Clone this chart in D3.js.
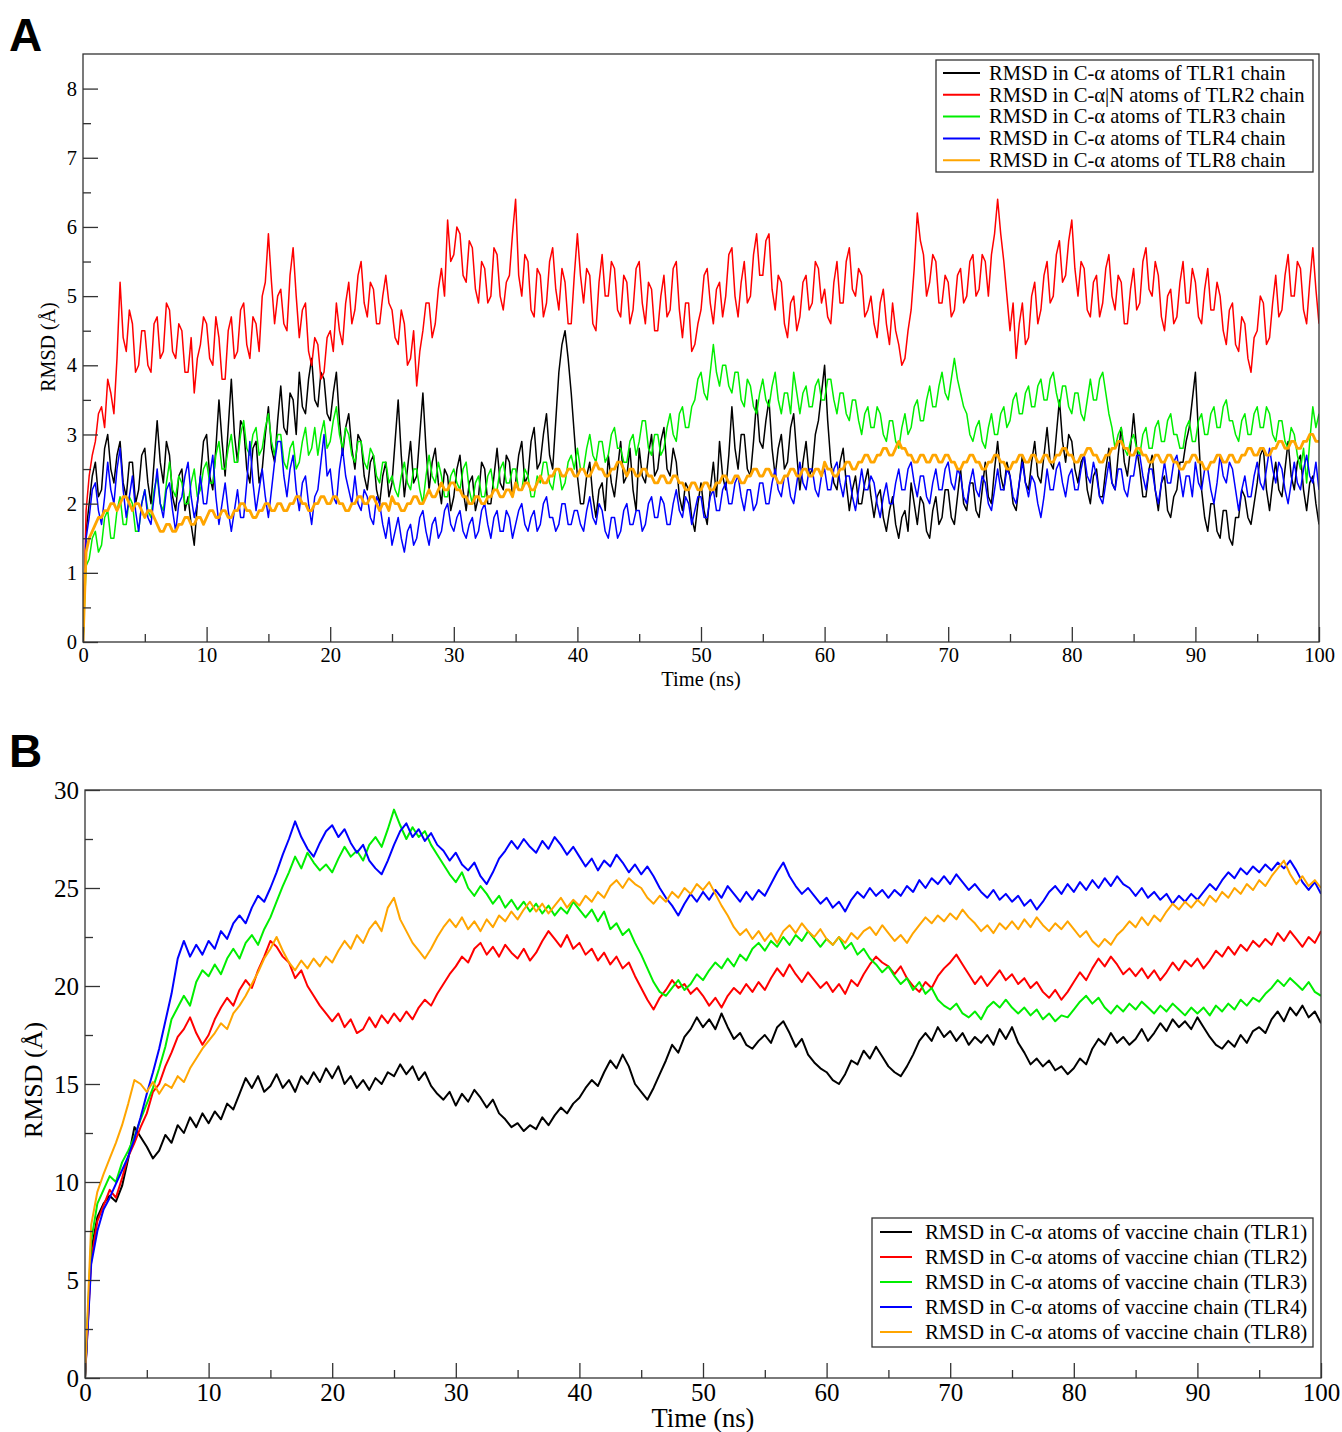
<!DOCTYPE html>
<html><head><meta charset="utf-8">
<script src="https://cdn.jsdelivr.net/npm/d3@7/dist/d3.min.js"></script>
<style>body{margin:0;background:#fff}svg{display:block}</style>
</head><body>
<svg id="chart" width="1342" height="1432"></svg>
<script>
// ---------- DATA ----------
const timeStepA = 0.25; // ns between samples, panel A
const timeStepB = 0.5;  // ns between samples, panel B
const xTickLabels = [0,10,20,30,40,50,60,70,80,90,100];
const xMinorTicks = [5,15,25,35,45,55,65,75,85,95];
const yTickLabelsA = [0,1,2,3,4,5,6,7,8];
const yMinorTicksA = [0.5,1.5,2.5,3.5,4.5,5.5,6.5,7.5];
const yTickLabelsB = [0,5,10,15,20,25,30];
const yMinorTicksB = [2.5,7.5,12.5,17.5,22.5,27.5];

const legendA = ["RMSD in C-\u03b1 atoms of TLR1 chain","RMSD in C-\u03b1|N atoms of TLR2 chain","RMSD in C-\u03b1 atoms of TLR3 chain","RMSD in C-\u03b1 atoms of TLR4 chain","RMSD in C-\u03b1 atoms of TLR8 chain"];
const legendB = ["RMSD in C-\u03b1 atoms of vaccine chain (TLR1)","RMSD in C-\u03b1 atoms of vaccine chian (TLR2)","RMSD in C-\u03b1 atoms of vaccine chain (TLR3)","RMSD in C-\u03b1 atoms of vaccine chain (TLR4)","RMSD in C-\u03b1 atoms of vaccine chain (TLR8)"];
const seriesColors = ["#000000","#ff0000","#00ee00","#0000ff","#ffa500"];

// Panel A (RMSD, Å), one value every 0.25 ns from 0 to 100 ns (20 values per 5 ns row)
const tlr1A = [
0,1.6,2.0,2.4,2.6,2.1,2.2,2.8,3.0,2.5,2.3,2.7,2.9,2.3,2.1,2.6,2.6,2.0,2.2,2.7,
2.8,2.3,2.0,2.6,3.2,2.6,2.3,2.9,2.7,2.1,1.9,2.4,2.5,1.9,2.1,1.7,1.4,2.0,2.4,2.9,
3.0,2.4,2.2,2.8,3.5,2.9,2.4,3.1,3.8,3.0,2.6,3.2,3.1,2.5,2.3,2.8,2.9,2.3,2.5,3.0,
3.4,2.8,2.6,3.2,3.7,3.1,3.0,3.6,3.5,3.0,3.9,3.4,3.3,3.8,4.1,3.5,3.4,3.9,3.8,3.3,
3.2,3.6,3.9,3.2,2.7,3.1,3.3,2.8,2.5,3.0,2.9,2.4,2.2,2.6,2.7,2.2,2.0,2.4,2.6,2.1,
2.3,2.9,3.5,2.7,2.1,2.5,2.9,2.3,2.4,3.0,3.6,2.8,2.2,2.6,2.8,2.3,2.0,2.5,2.4,1.9,
2.1,2.5,2.7,2.2,1.9,2.3,2.4,1.9,2.1,2.6,2.5,2.0,2.0,2.4,2.8,2.3,2.2,2.7,2.6,2.1,
2.3,2.7,2.9,2.3,2.4,2.9,3.1,2.5,2.6,3.0,3.3,2.7,2.5,3.2,3.9,4.3,4.5,4.1,3.6,3.0,
2.4,2.0,2.0,2.4,2.6,2.1,1.8,2.2,2.3,1.9,2.7,2.3,2.1,2.5,2.9,2.3,2.4,2.8,2.2,1.9,
2.8,2.4,2.3,2.7,3.0,2.4,2.5,2.9,3.1,2.5,2.4,2.8,2.6,2.1,1.9,2.3,2.2,1.8,1.6,2.0,
2.3,1.9,1.7,2.2,2.6,2.1,2.9,2.4,2.2,2.7,3.4,2.8,2.5,3.0,3.0,2.5,2.4,2.9,3.5,2.9,
2.8,3.2,3.5,2.8,2.4,2.8,3.0,2.5,2.6,3.1,3.3,2.7,2.2,2.6,2.9,2.4,2.5,3.0,3.2,3.6,
4.0,3.2,2.6,2.3,2.2,2.6,2.8,2.3,1.9,2.2,2.4,2.0,2.0,2.3,2.5,2.1,1.8,2.1,2.2,1.8,
1.6,1.9,2.1,1.7,1.5,1.8,1.9,1.6,2.3,2.0,1.7,2.1,2.0,1.6,1.5,1.9,2.1,1.7,1.8,2.2,
2.2,1.8,1.7,2.1,2.5,2.0,1.9,2.3,2.3,1.9,1.8,2.2,2.6,2.1,2.0,2.5,2.9,2.4,2.2,2.6,
2.4,2.0,1.9,2.3,2.7,2.3,2.2,2.6,2.9,2.4,2.3,2.7,3.1,2.6,2.5,3.0,3.5,2.9,2.6,3.0,
2.9,2.5,2.3,2.6,2.7,2.2,2.0,2.4,2.5,2.1,2.1,2.5,2.8,2.3,2.2,2.7,3.1,2.6,2.4,2.8,
3.3,2.8,2.5,2.1,2.1,2.5,2.7,2.2,1.9,2.3,2.4,1.9,1.8,2.1,2.2,2.6,2.6,2.9,3.1,3.5,
3.9,3.0,2.2,1.8,1.6,2.0,2.0,1.6,1.5,1.9,1.9,1.5,1.4,1.8,1.8,2.2,2.1,1.8,1.7,2.0,
2.3,2.7,2.8,2.2,1.9,2.3,2.6,2.2,2.1,2.5,2.9,2.4,2.2,2.6,2.7,2.2,1.9,2.3,2.4,2.0,
1.7];
const tlr2A = [
0,1.9,2.4,2.7,2.9,3.3,3.4,3.1,3.8,3.6,3.3,4.1,5.2,4.4,4.2,4.8,4.6,3.9,4.0,4.5,
4.5,4.0,3.9,4.6,4.7,4.1,4.2,4.9,4.8,4.2,4.1,4.6,4.5,3.9,3.9,4.4,3.6,4.1,4.3,4.7,
4.6,4.1,4.0,4.7,4.4,3.8,3.8,4.5,4.7,4.1,4.2,4.8,4.9,4.3,4.1,4.7,4.6,4.2,5.0,5.2,
5.9,5.2,4.6,5.0,5.1,4.6,4.5,5.3,5.7,5.0,4.4,4.8,4.9,4.2,4.0,4.4,4.3,3.8,3.9,4.4,
4.5,4.2,4.9,4.5,4.3,4.9,5.2,4.6,4.8,5.3,5.5,4.9,4.7,5.2,5.1,4.6,4.6,5.0,5.3,4.9,
4.8,4.4,4.3,4.8,4.6,4.0,4.1,4.5,3.7,4.2,4.5,4.9,4.9,4.4,4.6,5.1,5.4,5.0,6.1,5.5,
5.6,6.0,5.9,5.3,5.2,5.8,5.7,5.1,4.9,5.5,5.4,4.9,5.0,5.7,5.6,5.0,4.8,5.2,5.3,5.9,
6.4,5.3,5.0,5.6,5.5,4.8,4.7,5.4,5.3,4.7,4.9,5.5,5.7,5.1,4.8,5.4,5.2,4.6,4.6,5.3,
5.9,5.3,4.9,5.4,5.3,4.6,4.5,5.2,5.6,5.0,5.0,5.5,5.4,4.8,4.7,5.3,5.2,4.6,4.8,5.4,
5.5,4.9,4.6,5.2,5.1,4.5,4.5,5.0,5.3,4.7,4.8,5.4,5.5,4.8,4.4,4.9,4.9,4.2,4.3,4.6,
4.8,5.3,5.4,4.9,4.6,5.1,5.2,4.7,5.0,5.6,5.7,5.0,4.7,5.2,5.5,4.9,5.0,5.6,5.9,5.3,
5.3,5.8,5.9,5.1,4.8,5.3,5.2,4.6,4.4,4.9,5.0,4.5,4.7,5.2,5.3,4.8,4.9,5.5,5.4,4.9,
5.1,4.7,4.6,5.2,5.5,4.9,4.9,5.5,5.7,5.1,5.0,5.4,5.3,4.7,4.8,5.0,4.6,4.4,4.9,5.1,
4.6,4.3,4.9,4.5,4.3,4.0,4.1,4.5,4.8,5.4,6.2,5.8,5.6,5.0,5.2,5.6,5.5,4.9,4.9,5.3,
5.2,4.7,4.8,5.3,5.4,4.9,5.0,5.5,5.6,5.0,5.1,5.6,5.5,5.0,5.6,5.9,6.4,5.9,5.5,5.0,
4.5,4.9,4.1,4.6,4.9,4.3,4.4,5.0,5.2,4.6,4.8,5.3,5.5,4.9,5.0,5.6,5.8,5.2,5.3,5.8,
6.1,5.4,5.0,5.5,5.4,4.8,4.7,5.2,5.3,4.7,4.9,5.4,5.6,5.0,4.8,5.3,5.2,4.6,4.6,5.1,
5.4,4.8,4.9,5.5,5.7,5.1,5.0,5.5,5.3,4.7,4.5,5.0,5.1,4.6,4.7,5.2,5.5,4.9,4.9,5.4,
5.2,4.7,4.6,5.1,5.4,4.8,4.8,5.2,5.0,4.5,4.3,4.8,4.9,4.3,4.2,4.7,4.6,4.1,3.9,4.4,
4.5,5.0,4.9,4.3,4.4,4.9,5.3,4.7,4.8,5.3,5.6,5.0,5.0,5.5,5.4,4.8,4.6,5.2,5.7,5.1,
4.6];
const tlr3A = [
0,1.1,1.2,1.5,1.6,1.3,1.4,1.8,1.9,1.5,1.5,1.9,2.1,1.7,1.7,2.1,2.0,1.6,1.6,2.0,
2.2,1.9,1.8,2.2,2.4,2.0,1.9,2.3,2.6,2.2,2.1,2.4,2.3,2.0,2.0,2.3,2.5,2.1,2.2,2.5,
2.6,2.3,2.3,2.7,2.9,2.5,2.5,2.8,3.0,2.6,2.6,3.0,3.2,2.8,2.7,3.0,3.1,2.7,2.8,3.1,
3.3,2.9,2.7,3.0,3.0,2.6,2.5,2.8,2.9,2.5,2.6,2.9,3.1,2.7,2.8,3.1,2.7,3.0,3.2,2.8,
2.9,3.2,3.4,3.0,2.8,3.1,3.0,2.7,2.6,2.9,2.9,2.6,2.5,2.8,2.7,2.4,2.3,2.6,2.6,2.3,
2.4,2.2,2.1,2.4,2.6,2.3,2.2,2.5,2.5,2.2,2.0,2.4,2.7,2.4,2.3,2.6,2.4,2.1,2.1,2.4,
2.5,2.3,2.2,2.5,2.6,2.2,2.0,2.3,2.4,2.1,2.1,2.4,2.5,2.2,2.2,2.5,2.6,2.3,2.3,2.5,
2.5,2.2,2.2,2.5,2.4,2.1,2.1,2.4,2.3,2.6,2.6,2.3,2.2,2.5,2.5,2.2,2.3,2.6,2.7,2.5,
2.8,2.5,2.5,2.8,3.0,2.7,2.6,2.9,2.9,2.6,2.7,3.0,3.1,2.8,2.8,2.6,2.6,2.9,3.0,2.7,
2.9,3.2,3.2,2.8,2.7,3.0,3.0,2.7,2.8,3.1,3.3,3.0,2.9,3.3,3.4,3.1,3.1,3.4,3.5,3.8,
3.9,3.6,3.5,3.9,4.3,3.9,3.7,4.0,4.0,3.7,3.6,3.9,3.9,3.5,3.4,3.8,3.7,3.4,3.3,3.6,
3.8,3.5,3.4,3.7,3.9,3.5,3.3,3.6,3.6,3.3,3.9,3.6,3.3,3.6,3.7,3.4,3.4,3.7,3.8,3.5,
3.5,3.8,3.8,3.5,3.3,3.6,3.6,3.3,3.2,3.5,3.5,3.2,3.0,3.3,3.4,3.1,3.1,3.4,3.3,3.0,
2.9,3.2,3.2,2.9,2.8,3.1,3.3,3.0,3.1,3.4,3.5,3.2,3.2,3.5,3.7,3.4,3.4,3.7,3.9,3.6,
3.5,3.8,4.1,3.8,3.6,3.4,3.3,3.0,2.9,3.1,3.2,2.9,2.8,3.1,3.3,3.0,3.0,3.3,3.4,3.1,
3.2,3.5,3.6,3.3,3.3,3.6,3.7,3.4,3.4,3.7,3.8,3.5,3.5,3.8,3.9,3.6,3.4,3.7,3.7,3.4,
3.3,3.6,3.6,3.3,3.2,3.5,3.8,3.5,3.5,3.8,3.9,3.6,3.3,3.1,2.8,3.0,3.1,2.8,2.7,2.9,
3.0,2.8,2.7,3.0,3.1,2.8,2.8,3.1,3.2,2.9,2.9,3.2,3.3,3.0,3.0,2.8,2.8,3.1,3.2,2.9,
2.9,3.2,3.3,3.0,3.0,3.3,3.4,3.1,3.1,3.4,3.5,3.2,3.2,3.0,2.9,3.2,3.3,3.0,3.0,3.3,
3.4,3.1,3.1,3.4,3.3,3.0,2.9,3.2,3.2,2.9,2.8,3.1,3.0,2.7,2.5,2.8,2.3,2.9,3.4,3.1,
3.3];
const tlr4A = [
0,1.5,1.8,2.2,2.3,1.9,1.7,2.1,2.6,2.2,2.0,2.5,2.8,2.2,1.8,2.1,2.4,1.9,1.6,2.0,
2.2,1.8,1.7,2.1,2.5,2.0,1.8,2.2,2.3,1.9,1.6,2.0,2.1,2.4,2.6,2.1,1.8,2.0,2.4,2.0,
2.0,2.4,2.7,2.1,1.7,2.0,2.3,1.9,1.6,1.9,2.2,1.8,1.8,2.3,2.9,2.3,1.9,2.2,2.5,2.1,
1.8,2.2,2.6,2.9,2.9,2.4,2.1,2.5,2.7,2.2,1.9,2.3,2.4,2.0,1.7,2.1,2.2,2.6,3.0,2.4,
2.5,2.1,2.0,2.5,2.8,2.4,2.2,2.0,2.4,2.0,1.9,2.2,2.1,1.8,1.7,2.1,2.0,1.7,1.5,1.8,
1.4,1.6,1.8,1.5,1.3,1.6,1.7,1.4,1.5,1.8,1.9,1.6,1.4,1.7,1.8,1.5,1.6,1.9,2.0,1.7,
1.6,1.8,1.9,1.6,1.5,1.7,1.8,1.5,1.6,1.9,2.0,1.7,1.5,1.8,1.9,1.6,1.6,1.9,1.8,1.5,
1.7,1.9,2.0,1.7,1.6,1.8,1.9,1.6,1.7,2.0,2.1,1.8,1.8,1.6,1.7,2.0,2.0,1.7,1.7,1.9,
1.9,1.7,1.6,1.9,2.1,1.8,1.7,2.0,1.9,1.6,1.5,1.8,1.8,1.5,1.6,1.9,2.0,1.7,1.7,1.9,
1.9,1.6,1.7,2.0,2.1,1.8,1.8,2.1,2.0,1.7,1.7,2.0,2.2,1.9,1.8,2.1,2.0,1.7,1.9,2.1,
2.1,1.8,1.8,2.1,2.2,1.9,1.9,2.2,2.3,2.0,2.0,2.3,2.4,2.1,1.9,2.2,2.2,1.9,2.0,2.3,
2.3,2.0,2.0,2.3,2.5,2.2,2.1,2.4,2.4,2.1,2.0,2.3,2.6,2.3,2.2,2.5,2.5,2.2,2.1,2.4,
2.5,2.2,2.2,2.5,2.6,2.3,2.1,2.4,2.4,2.1,1.9,2.2,2.5,2.2,2.2,2.4,2.3,2.0,1.8,2.1,
2.3,2.0,2.0,2.3,2.5,2.2,2.2,2.5,2.6,2.3,2.1,2.4,2.4,2.1,2.0,2.3,2.5,2.2,2.2,2.5,
2.6,2.3,2.2,2.5,2.4,2.1,2.0,2.3,2.5,2.2,2.1,2.4,2.3,2.0,1.9,2.2,2.5,2.2,2.2,2.5,
2.4,2.1,2.0,2.3,2.6,2.3,2.1,2.4,2.3,2.0,1.8,2.1,2.5,2.2,2.2,2.5,2.6,2.3,2.1,2.4,
2.5,2.2,2.2,2.5,2.7,2.4,2.3,2.6,2.4,2.1,2.0,2.3,2.6,2.3,2.2,2.5,2.5,2.2,2.1,2.4,
2.4,2.7,2.7,2.4,2.2,2.5,2.5,2.2,2.0,2.3,2.6,2.3,2.3,2.6,2.7,2.4,2.1,2.4,2.4,2.1,
2.6,2.3,2.2,2.5,2.5,2.2,2.0,2.3,2.7,2.4,2.3,2.6,2.5,2.2,1.9,2.2,2.4,2.1,2.1,2.4,
2.6,2.3,2.2,2.5,2.8,2.5,2.3,2.6,2.5,2.2,2.0,2.3,2.6,2.3,2.2,2.5,2.7,2.4,2.3,2.6,
2.2];
const tlr8A = [
0,1.3,1.5,1.6,1.7,1.8,1.8,1.9,1.9,2.0,2.0,1.9,2.0,2.1,2.1,2.0,1.9,2.0,2.0,1.9,
1.8,1.9,1.9,1.8,1.7,1.6,1.6,1.7,1.7,1.6,1.6,1.7,1.7,1.8,1.8,1.7,1.7,1.8,1.8,1.7,
1.8,1.9,1.9,1.8,1.8,1.9,1.9,1.8,1.8,1.9,1.9,2.0,2.0,1.9,1.9,1.8,1.8,1.9,1.9,2.0,
2.0,1.9,1.9,2.0,2.0,1.9,1.9,2.0,2.0,2.1,2.1,2.0,2.0,1.9,1.9,2.0,2.0,2.1,2.1,2.0,
2.0,2.1,2.1,2.0,2.0,1.9,1.9,2.0,2.0,2.1,2.1,2.0,2.0,2.1,2.1,2.0,1.9,2.0,2.0,1.9,
2.1,2.0,2.0,1.9,1.9,2.0,2.0,2.1,2.1,2.0,2.0,2.1,2.2,2.1,2.1,2.2,2.3,2.2,2.2,2.3,
2.3,2.2,2.2,2.1,2.1,2.0,2.0,2.1,2.1,2.0,2.0,2.1,2.1,2.2,2.2,2.1,2.1,2.2,2.2,2.1,
2.3,2.2,2.2,2.3,2.3,2.2,2.2,2.3,2.4,2.3,2.3,2.4,2.4,2.5,2.5,2.4,2.4,2.5,2.5,2.4,
2.4,2.5,2.5,2.4,2.4,2.5,2.6,2.5,2.5,2.4,2.4,2.5,2.5,2.6,2.6,2.5,2.4,2.5,2.5,2.4,
2.4,2.5,2.5,2.4,2.4,2.3,2.3,2.4,2.4,2.3,2.3,2.4,2.4,2.3,2.3,2.2,2.2,2.3,2.3,2.2,
2.2,2.3,2.3,2.2,2.2,2.3,2.3,2.4,2.4,2.3,2.3,2.4,2.4,2.3,2.3,2.4,2.4,2.5,2.5,2.4,
2.4,2.5,2.5,2.4,2.4,2.3,2.3,2.4,2.4,2.5,2.5,2.4,2.4,2.5,2.5,2.4,2.4,2.5,2.5,2.4,
2.6,2.5,2.5,2.4,2.4,2.5,2.5,2.6,2.6,2.5,2.5,2.6,2.6,2.7,2.7,2.6,2.6,2.7,2.7,2.8,
2.8,2.7,2.7,2.8,2.9,2.8,2.8,2.7,2.7,2.6,2.6,2.7,2.7,2.6,2.6,2.7,2.7,2.6,2.6,2.7,
2.7,2.6,2.6,2.5,2.5,2.6,2.6,2.7,2.7,2.6,2.6,2.5,2.5,2.6,2.6,2.7,2.7,2.6,2.6,2.5,
2.5,2.6,2.6,2.7,2.7,2.6,2.6,2.7,2.7,2.6,2.6,2.7,2.7,2.6,2.6,2.7,2.7,2.8,2.8,2.7,
2.7,2.6,2.6,2.7,2.7,2.8,2.8,2.7,2.7,2.6,2.6,2.7,2.7,2.8,2.8,2.9,2.9,2.8,2.8,2.7,
2.7,2.8,2.8,2.7,2.7,2.6,2.6,2.7,2.7,2.6,2.6,2.7,2.7,2.6,2.6,2.5,2.5,2.6,2.6,2.7,
2.7,2.6,2.6,2.5,2.5,2.6,2.6,2.7,2.7,2.6,2.6,2.7,2.7,2.6,2.6,2.7,2.7,2.8,2.8,2.7,
2.7,2.8,2.8,2.7,2.7,2.8,2.8,2.9,2.9,2.8,2.8,2.9,2.9,2.8,2.8,2.9,2.9,3.0,3.0,2.9,
2.9];

// Panel B (RMSD, Å), one value every 0.5 ns from 0 to 100 ns
const tlr1B = [0,6.5,8.2,8.9,9.3,9.0,9.8,11.2,12.8,12.3,
11.8,11.2,11.6,12.4,12.0,12.9,12.5,13.3,12.8,13.5,
13.0,13.6,13.2,14.0,13.7,14.5,15.3,14.8,15.4,14.6,
14.9,15.5,14.8,15.2,14.6,15.4,15.0,15.6,15.1,15.8,
15.3,15.9,15.0,15.4,14.8,15.2,14.7,15.3,15.0,15.6,
15.4,16.0,15.5,15.9,15.2,15.6,14.9,14.5,14.2,14.6,
13.9,14.5,14.1,14.7,14.3,13.8,14.2,13.5,13.2,12.8,
13.0,12.6,12.9,12.7,13.3,12.9,13.4,13.8,13.5,14.0,
14.3,14.8,15.2,14.9,15.6,16.2,15.8,16.5,15.9,15.0,
14.6,14.2,14.8,15.5,16.2,17.0,16.6,17.4,17.8,18.4,
17.9,18.3,17.8,18.6,17.9,17.3,17.6,17.0,16.8,17.2,
17.5,17.1,17.9,18.2,17.6,16.9,17.3,16.5,16.1,15.8,
15.6,15.2,15.0,15.5,16.2,16.0,16.7,16.3,16.9,16.4,
15.9,15.6,15.4,15.9,16.5,17.2,17.6,17.2,17.9,17.4,
17.7,17.2,17.6,17.0,17.4,17.1,17.5,17.0,17.8,17.3,
17.9,17.1,16.6,16.0,16.3,15.9,16.2,15.7,15.9,15.5,
15.8,16.3,16.0,16.8,17.3,17.0,17.6,17.1,17.4,17.0,
17.3,17.8,17.2,17.6,18.1,17.7,18.3,17.9,18.2,17.8,
18.4,17.9,17.4,17.0,16.8,17.2,16.9,17.5,17.1,17.7,
17.9,17.6,18.3,18.7,18.2,18.9,18.5,19.0,18.4,18.7,
18.1];
const tlr2B = [0,6.0,8.0,8.8,9.6,9.2,10.2,11.3,12.0,12.8,
13.5,14.6,15.0,15.9,16.6,17.4,17.8,18.4,17.6,17.0,
17.5,18.3,18.9,19.4,19.0,19.8,20.3,19.9,20.8,21.5,
22.3,22.0,21.5,21.2,20.4,20.8,20.0,19.5,19.0,18.6,
18.2,18.6,17.9,18.3,17.6,17.8,18.4,17.9,18.5,18.1,
18.6,18.2,18.7,18.3,18.9,19.3,19.0,19.6,20.1,20.6,
21.0,21.5,21.2,21.9,22.2,21.6,22.0,21.5,22.1,21.7,
21.4,21.9,21.3,21.7,22.3,22.8,22.4,22.0,22.6,21.9,
22.2,21.6,21.9,21.3,21.7,21.1,21.5,20.9,21.2,20.5,
19.9,19.3,18.8,19.4,19.8,20.3,19.9,20.1,19.6,19.9,
19.5,19.0,19.4,18.9,19.5,19.9,19.6,20.1,19.7,20.2,
19.8,20.4,20.9,20.5,21.1,20.6,20.2,20.7,20.3,19.9,
20.2,19.7,20.1,19.6,20.3,20.0,20.6,21.1,21.5,21.2,
21.0,20.6,21.0,20.4,20.0,19.7,20.2,19.9,20.5,20.9,
21.2,21.6,21.1,20.6,20.1,20.5,20.0,20.4,20.8,20.3,
20.6,20.1,20.4,19.9,20.2,19.7,19.4,19.8,19.3,19.7,
20.2,20.7,20.3,20.9,21.4,21.0,21.5,21.1,20.6,20.9,
20.5,20.9,20.4,20.8,20.3,20.7,21.2,20.8,21.3,21.0,
21.4,20.9,21.3,21.8,21.5,22.0,21.6,22.1,21.8,22.3,
22.0,22.4,22.1,22.7,22.3,22.8,22.4,22.0,22.5,22.2,
22.8];
const tlr3B = [0,7.0,8.9,9.6,10.3,10.0,11.0,11.6,12.3,13.2,
14.0,14.8,15.8,16.9,18.3,18.9,19.5,19.0,20.2,20.8,
20.5,21.1,20.6,21.4,21.9,21.4,22.2,22.6,22.1,22.9,
23.5,24.3,25.1,25.8,26.6,26.0,26.8,26.3,25.9,26.2,
25.8,26.5,27.1,26.6,26.9,26.4,27.2,27.6,27.1,28.0,
29.0,28.2,27.5,28.1,27.6,27.9,27.2,26.7,26.2,25.7,
25.3,25.8,25.0,24.6,25.1,24.7,24.2,24.6,24.0,24.4,
23.9,24.3,23.8,24.2,23.7,24.1,23.6,24.0,23.7,24.3,
23.9,23.5,23.9,23.3,23.8,22.9,23.2,22.6,22.9,22.2,
21.6,20.9,20.2,19.7,19.5,19.9,20.3,19.8,20.1,20.6,
20.3,20.8,21.2,20.9,21.4,21.0,21.6,21.3,21.9,22.2,
21.8,22.3,22.0,22.5,22.1,22.6,22.3,22.8,22.4,22.0,
22.4,22.1,22.5,21.9,22.2,21.6,21.9,21.4,21.1,20.7,
21.0,20.5,20.1,20.4,19.8,20.2,19.6,19.9,19.3,19.0,
18.8,19.1,18.6,18.4,18.7,18.3,18.9,19.2,18.9,19.3,
18.9,18.6,18.9,18.5,18.8,18.3,18.6,18.2,18.5,18.4,
18.8,19.2,19.5,19.1,19.4,18.9,18.6,19.0,18.7,19.1,
18.8,19.2,18.9,18.6,19.0,18.7,19.1,18.8,18.5,18.9,
18.6,18.9,18.5,19.0,18.7,19.1,18.8,19.3,19.0,19.4,
19.2,19.6,19.9,20.3,20.0,20.4,20.1,19.8,20.2,19.7,
19.5];
const tlr4B = [0,5.8,7.5,8.6,9.2,9.9,10.6,11.3,12.2,13.3,
14.5,15.6,16.8,18.2,19.6,21.4,22.3,21.5,22.1,21.6,
22.3,21.9,22.8,22.4,23.2,23.6,23.2,24.0,24.6,24.3,
25.0,25.8,26.7,27.5,28.4,27.6,27.0,26.6,27.3,27.9,
28.2,27.6,28.0,27.3,26.8,27.2,26.4,26.0,25.7,26.4,
27.2,27.9,28.3,27.6,28.0,27.4,27.8,27.2,26.9,26.4,
26.8,26.2,25.9,26.3,25.6,25.2,25.8,26.5,26.9,27.4,
27.0,27.5,27.1,26.8,27.4,27.0,27.6,27.2,26.7,27.1,
26.6,26.1,26.5,25.9,26.4,26.1,26.7,26.3,25.8,26.2,
25.7,26.1,25.6,25.0,24.5,24.1,23.6,24.2,24.7,24.3,
24.8,24.4,24.9,24.5,25.1,24.7,24.3,24.8,24.4,24.9,
24.6,25.2,25.8,26.3,25.6,25.1,24.7,25.0,24.6,24.2,
24.5,24.0,24.3,23.8,24.4,24.8,24.5,25.0,24.6,24.9,
24.5,24.9,24.6,25.1,24.8,25.4,25.0,25.5,25.2,25.6,
25.2,25.7,25.3,24.9,25.2,24.8,24.5,24.9,24.4,24.7,
24.3,24.6,24.1,24.4,23.9,24.3,24.8,25.1,24.7,25.2,
24.8,25.3,24.9,25.4,25.0,25.5,25.1,25.6,25.2,25.0,
24.6,25.0,24.5,24.8,24.4,24.7,24.2,24.6,24.3,24.7,
24.4,24.8,25.2,24.9,25.4,25.8,25.5,26.0,25.7,26.1,
25.8,26.2,25.9,26.3,26.0,26.4,25.9,25.3,24.9,25.3,
24.7];
const tlr8B = [0,7.8,9.5,10.4,11.2,12.0,12.9,14.0,15.2,15.0,
14.6,15.1,14.5,15.0,14.8,15.4,15.1,15.8,16.3,16.8,
17.2,17.6,18.1,17.8,18.6,19.0,19.5,20.1,20.7,21.4,
21.9,22.5,21.8,21.2,20.8,21.3,20.9,21.4,21.0,21.5,
21.2,21.8,22.3,21.9,22.6,22.2,22.9,23.3,22.8,24.0,
24.5,23.4,22.8,22.2,21.8,21.4,21.9,22.5,23.0,23.4,
23.0,23.5,22.9,23.3,22.8,23.4,23.0,23.6,23.3,23.8,
23.4,23.9,24.3,23.8,24.2,23.7,24.1,24.5,24.0,24.4,
24.1,24.6,24.3,24.8,24.5,25.1,25.4,25.0,25.5,25.2,
25.0,24.5,24.2,24.6,24.3,24.8,24.5,25.0,24.7,25.2,
24.9,25.3,24.7,24.1,23.6,23.0,22.6,22.9,22.4,22.8,
22.3,22.7,22.2,22.8,23.1,22.7,23.2,22.8,22.5,22.9,
22.4,22.1,22.5,22.2,22.7,22.4,22.8,23.0,22.6,23.1,
22.7,22.3,22.6,22.2,22.7,23.1,23.5,23.2,23.6,23.3,
23.7,23.4,23.9,23.5,23.2,22.8,23.1,22.7,23.2,22.9,
23.3,22.9,23.4,23.0,23.5,23.1,22.8,23.2,22.9,23.3,
22.9,22.5,22.8,22.3,22.0,22.4,22.1,22.6,22.9,23.3,
23.0,23.5,23.1,23.6,23.3,23.8,24.2,23.9,24.3,24.0,
24.4,24.1,24.6,24.3,24.8,24.5,25.0,24.7,25.2,24.9,
25.4,25.1,25.6,26.0,26.4,25.7,25.2,25.6,25.1,25.4,
25.0];

// ---------- DRAW ----------
const svg = d3.select("#chart");
const SERIF = "'Liberation Serif','Times New Roman',serif";

function drawPanel(cfg) {
  const x = d3.scaleLinear().domain([0, 100]).range([cfg.left, cfg.right]);
  const y = d3.scaleLinear().domain([0, cfg.ymax]).range([cfg.bottom, cfg.top]);
  const g = svg.append("g");
  const clipId = "clip" + cfg.id;
  g.append("clipPath").attr("id", clipId).append("rect")
    .attr("x", cfg.left).attr("y", cfg.top)
    .attr("width", cfg.right - cfg.left).attr("height", cfg.bottom - cfg.top);

  const line = d3.line().x((d, i) => x(i * cfg.step)).y(d => y(d));
  const lines = g.append("g").attr("clip-path", `url(#${clipId})`);
  cfg.series.forEach((vals, k) => {
    lines.append("path").attr("d", line(vals))
      .attr("fill", "none").attr("stroke", seriesColors[k])
      .attr("stroke-width", k === 4 ? cfg.lwOrange : cfg.lw)
      .attr("stroke-linejoin", "round");
  });

  // frame
  g.append("rect").attr("x", cfg.left).attr("y", cfg.top)
    .attr("width", cfg.right - cfg.left).attr("height", cfg.bottom - cfg.top)
    .attr("fill", "none").attr("stroke", "#333").attr("stroke-width", 1.3);

  // axes (inward ticks)
  const fs = cfg.tickFont;
  const xa = g.append("g").attr("transform", `translate(0,${cfg.bottom})`)
    .call(d3.axisBottom(x).tickValues(xTickLabels).tickSize(-cfg.major).tickPadding(cfg.xPad).tickFormat(d3.format("d")));
  const xm = g.append("g").attr("transform", `translate(0,${cfg.bottom})`)
    .call(d3.axisBottom(x).tickValues(xMinorTicks).tickSize(-cfg.minor).tickFormat(""));
  const ya = g.append("g").attr("transform", `translate(${cfg.left},0)`)
    .call(d3.axisLeft(y).tickValues(cfg.yTicks).tickSize(-cfg.major).tickPadding(cfg.yPad).tickFormat(d3.format("d")));
  const ym = g.append("g").attr("transform", `translate(${cfg.left},0)`)
    .call(d3.axisLeft(y).tickValues(cfg.yMinor).tickSize(-cfg.minor).tickFormat(""));
  [xa, xm, ya, ym].forEach(a => {
    a.select(".domain").remove();
    a.selectAll("line").attr("stroke", "#333").attr("stroke-width", 1.3);
    a.selectAll("text").attr("fill", "#000").style("font-family", SERIF).style("font-size", fs + "px");
  });

  // axis titles
  g.append("text").attr("x", cfg.xTitleX).attr("y", cfg.xTitleY)
    .attr("text-anchor", "middle").style("font-family", SERIF).style("font-size", cfg.titleFont + "px")
    .text("Time (ns)");
  g.append("text").attr("transform", `translate(${cfg.yTitleX},${cfg.yTitleY}) rotate(-90)`)
    .attr("text-anchor", "middle").attr("dy", "0.35em")
    .style("font-family", SERIF).style("font-size", cfg.yTitleFont + "px")
    .text("RMSD (\u00c5)");

  // panel letter
  g.append("text").attr("x", cfg.letterX).attr("y", cfg.letterY)
    .style("font-family", "'Liberation Sans',Arial,sans-serif").style("font-weight", "bold")
    .style("font-size", "46px").text(cfg.id);

  // legend
  const L = cfg.legend;
  const lg = g.append("g");
  lg.append("rect").attr("x", L.x).attr("y", L.y).attr("width", L.w).attr("height", L.h)
    .attr("fill", "#fff").attr("stroke", "#333").attr("stroke-width", 1.3);
  cfg.legendText.forEach((t, k) => {
    const yy = L.y + L.first + k * L.step;
    lg.append("line").attr("x1", L.x + L.lx1).attr("x2", L.x + L.lx2).attr("y1", yy).attr("y2", yy)
      .attr("stroke", seriesColors[k]).attr("stroke-width", 2);
    lg.append("text").attr("x", L.x + L.tx).attr("y", yy).attr("dy", "0.33em")
      .style("font-family", SERIF).style("font-size", L.font + "px").attr("fill", "#000").text(t);
  });
}

drawPanel({
  id: "A", left: 83, right: 1319, top: 54, bottom: 642, ymax: 8.5, step: timeStepA,
  yTicks: yTickLabelsA, yMinor: yMinorTicksA,
  series: [tlr1A, tlr2A, tlr3A, tlr4A, tlr8A], lw: 1.5, lwOrange: 2.8,
  major: 15, minor: 8, xPad: 5, yPad: 6, tickFont: 20.5,
  xTitleX: 701, xTitleY: 686, titleFont: 20.5,
  yTitleX: 48, yTitleY: 347, yTitleFont: 20,
  letterX: 9, letterY: 51,
  legend: {x: 936, y: 60, w: 377, h: 112, first: 13, step: 21.8, lx1: 7, lx2: 44, tx: 53, font: 20.6},
  legendText: legendA
});

drawPanel({
  id: "B", left: 85, right: 1321, top: 790, bottom: 1378, ymax: 30, step: timeStepB,
  yTicks: yTickLabelsB, yMinor: yMinorTicksB,
  series: [tlr1B, tlr2B, tlr3B, tlr4B, tlr8B], lw: 2, lwOrange: 2,
  major: 15, minor: 8, xPad: 5, yPad: 6, tickFont: 25,
  xTitleX: 703, xTitleY: 1427, titleFont: 26.5,
  yTitleX: 33, yTitleY: 1080, yTitleFont: 26,
  letterX: 9, letterY: 767,
  legend: {x: 872, y: 1218, w: 441, h: 129, first: 14, step: 25, lx1: 8, lx2: 40, tx: 53, font: 20.8},
  legendText: legendB
});
</script>
</body></html>
